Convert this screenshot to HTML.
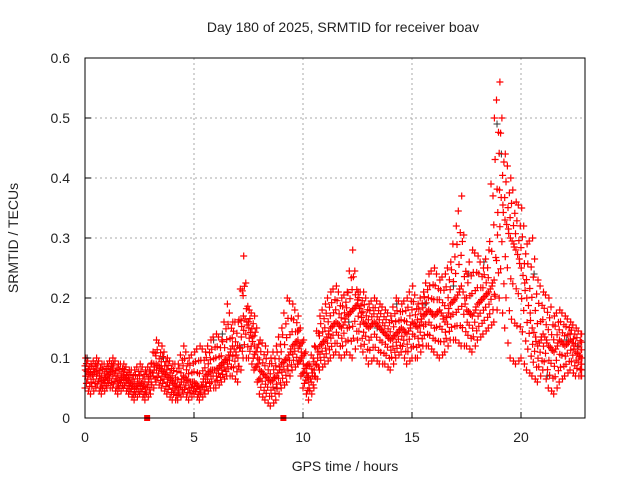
<!DOCTYPE html>
<html><head><meta charset="utf-8"><style>
body{margin:0;background:#fff;font-family:"Liberation Sans",sans-serif}
svg text{font-family:"Liberation Sans",sans-serif;font-size:14px;fill:#222}
</style></head><body>
<svg id="chart" width="640" height="480">
<text x="343" y="32" text-anchor="middle">Day 180 of 2025, SRMTID for receiver boav</text>
<text x="345" y="471" text-anchor="middle">GPS time / hours</text>
<text x="18" y="238" text-anchor="middle" transform="rotate(-90 18 238)">SRMTID / TECUs</text>
<g id="grid"></g><g id="marks"></g>
<rect x="85" y="58" width="500" height="360" fill="none" stroke="#000" stroke-width="1"/>
<g id="ticks"></g>
</svg>
<script>
const hours=[0,0.25,0.5,0.75,1,1.25,1.5,1.75,2,2.25,2.5,2.75,3,3.25,3.5,3.75,4,4.25,4.5,4.75,5,5.25,5.5,5.75,6,6.25,6.5,6.75,7,7.25,7.5,7.75,8,8.25,8.5,8.75,9,9.25,9.5,9.75,10,10.25,10.5,10.75,11,11.25,11.5,11.75,12,12.25,12.5,12.75,13,13.25,13.5,13.75,14,14.25,14.5,14.75,15,15.25,15.5,15.75,16,16.25,16.5,16.75,17,17.25,17.5,17.75,18,18.25,18.5,18.75,19,19.25,19.5,19.75,20,20.25,20.5,20.75,21,21.25,21.5,21.75,22,22.25,22.5,22.75];
const midVals=[.08,.07,.08,.06,.07,.08,.06,.07,.06,.05,.06,.05,.07,.09,.08,.07,.06,.05,.07,.06,.06,.05,.07,.08,.08,.09,.10,.12,.10,.17,.15,.12,.08,.07,.06,.07,.09,.10,.12,.13,.09,.06,.08,.12,.13,.15,.16,.15,.17,.18,.19,.16,.15,.16,.15,.14,.13,.14,.15,.14,.16,.15,.17,.18,.17,.18,.16,.19,.20,.22,.18,.17,.19,.20,.21,.23,.38,.33,.30,.28,.25,.20,.15,.12,.14,.12,.11,.13,.12,.13,.11,.10];
const highVals=[.10,.09,.10,.09,.09,.10,.09,.09,.08,.08,.09,.08,.09,.13,.12,.10,.09,.09,.12,.10,.11,.12,.11,.13,.14,.13,.19,.16,.16,.27,.18,.17,.13,.12,.10,.12,.15,.20,.19,.17,.13,.09,.12,.17,.19,.21,.22,.20,.21,.28,.21,.21,.19,.20,.19,.18,.17,.20,.19,.20,.22,.19,.21,.24,.25,.23,.24,.26,.32,.37,.24,.28,.27,.25,.28,.50,.56,.44,.40,.36,.35,.29,.30,.23,.21,.20,.17,.18,.17,.16,.15,.14];
const lowVals=[.05,.04,.05,.04,.05,.05,.04,.05,.04,.03,.04,.03,.04,.06,.05,.04,.03,.03,.04,.03,.04,.03,.04,.05,.05,.06,.07,.07,.06,.10,.10,.08,.04,.03,.02,.03,.05,.06,.08,.09,.05,.03,.05,.08,.09,.10,.11,.10,.11,.10,.13,.11,.09,.10,.09,.09,.08,.10,.11,.09,.10,.10,.12,.12,.11,.10,.11,.13,.13,.12,.12,.11,.13,.14,.15,.16,.20,.15,.10,.09,.10,.08,.07,.06,.08,.05,.04,.06,.07,.08,.07,.07];
const blackHours=[0.1,1.2,3.6,5.9,6.3,7.1,8.8,10.2,12.1,13.4,14.3,15.6,16.9,17.6,18.3,18.9,19.1,20.6,21.2,22.1,22.6];
const blackVals=[.10,.08,.10,.13,.14,.12,.05,.07,.16,.15,.19,.19,.22,.24,.26,.49,.44,.24,.07,.13,.12];
const lostHours=[2.85,9.1];
const xTicks=[0,5,10,15,20];
const yTicks=[0,0.1,0.2,0.3,0.4,0.5,0.6];
const yLabels=["0","0.1","0.2","0.3","0.4","0.5","0.6"];
const X=h=>85+h*21.8, Y=v=>418-v*600;
const NS="http://www.w3.org/2000/svg";
function mk(tag,attrs,parent){const e=document.createElementNS(NS,tag);for(const k in attrs)e.setAttribute(k,attrs[k]);parent.appendChild(e);return e;}
const grid=document.getElementById('grid'),ticks=document.getElementById('ticks'),marks=document.getElementById('marks');
xTicks.forEach(t=>{
 if(t>0){const g=mk('line',{x1:X(t),x2:X(t),y1:58,y2:418,stroke:'#aaa','stroke-dasharray':'2,3'},grid);
 
 }
 mk('line',{x1:X(t),x2:X(t),y1:418,y2:412,stroke:'#000'},ticks);
 const l=mk('text',{x:X(t),y:442,'text-anchor':'middle'},ticks);l.textContent=t;
 
 
});
yTicks.forEach((t,i)=>{
 if(t>0){const g=mk('line',{x1:85,x2:585,y1:Y(t),y2:Y(t),stroke:'#aaa','stroke-dasharray':'2,3'},grid);
 
 }
 mk('line',{x1:85,x2:91,y1:Y(t),y2:Y(t),stroke:'#000'},ticks);
 const l=mk('text',{x:70,y:Y(t)+5,'text-anchor':'end'},ticks);l.textContent=yLabels[i];
 
 
});
let redPath='';
function plusD(h,v){const x=X(h),y=Y(v);return `M${(x-3.5).toFixed(1)} ${y.toFixed(1)}h7M${x.toFixed(1)} ${(y-3.5).toFixed(1)}v7`;}
const fr=[0,0.17,0.33,0.5,0.67,0.83,1];
hours.forEach((h,i)=>{
 const j=Math.min(i+1,hours.length-1);
 for(let s=0;s<4;s++){
  const a=s/4;
  const lo=lowVals[i]*(1-a)+lowVals[j]*a, m=midVals[i]*(1-a)+midVals[j]*a, hi=highVals[i]*(1-a)+highVals[j]*a;
  const hh=h+(hours[j]-h)*a;
  fr.forEach((f,k)=>{
   const v=f<=0.5? lo+(m-lo)*f*2 : m+(hi-m)*(f-0.5)*2;
   if((k+s)%2===0||f===0.5||(s===0&&(f===0||f===1))) redPath+=plusD(hh+((k*3+s)%4)*0.015,v);
  });
 }
});
blackHours.forEach((h,i)=>{const x=X(h),y=Y(blackVals[i]);
 const p=mk('path',{d:`M${x-3.5} ${y}h7M${x} ${y-3.5}v7`,stroke:'#333','stroke-width':1,fill:'none'},marks);
 
 });
const rp=mk('path',{d:redPath,stroke:'#f00','stroke-width':1.2,fill:'none'},marks);


lostHours.forEach(h=>{const r=mk('rect',{x:X(h)-3,y:415,width:6,height:6,fill:'#f00'},marks);
 
 });
</script>
</body></html>
